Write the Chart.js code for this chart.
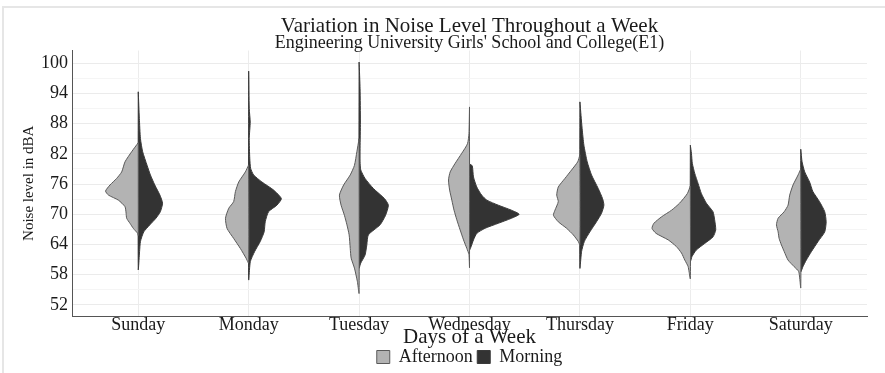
<!DOCTYPE html>
<html>
<head>
<meta charset="utf-8">
<script src="https://cdn.jsdelivr.net/npm/chart.js@4.4.1/dist/chart.umd.min.js"></script>
<style>
  html, body { margin: 0; padding: 0; background: #ffffff; }
  #wrap { width: 885px; height: 373px; }
</style>
</head>
<body>
<div id="wrap"><canvas id="chart" width="885" height="373"></canvas></div>
<script>
// Days on the x axis and the two sampling sessions
const days = ['Sunday', 'Monday', 'Tuesday', 'Wednesday', 'Thursday', 'Friday', 'Saturday'];
const sessions = ['Afternoon', 'Morning'];
const yTickLabels = [52, 58, 64, 70, 76, 82, 88, 94, 100];
const yMinorTicks = [55, 61, 67, 73, 79, 85, 91, 97];

// Density profiles: [noise level dBA, half-width of the violin in category units]
const sundayAfternoon = [[84.2,0],[82.4,0.06],[80.4,0.12],[78.4,0.15],[77.1,0.196],[75.8,0.256],[74.6,0.296],[73.8,0.27],[72.8,0.18],[71.5,0.12],[70.2,0.11],[69.2,0.105],[68.2,0.075],[67.2,0.045],[66.2,0.005],[65.8,0]];
const sundayMorning = [[94.3,0],[89.0,0.01],[85.0,0.02],[82.4,0.04],[79.7,0.08],[77.8,0.11],[75.8,0.15],[73.8,0.196],[72.2,0.22],[70.5,0.2],[69.2,0.16],[67.9,0.105],[66.5,0.05],[64.6,0.02],[62.6,0.012],[59.0,0]];
const mondayAfternoon = [[79.8,0],[78.4,0.03],[76.4,0.09],[74.5,0.12],[72.5,0.136],[71.2,0.18],[69.2,0.21],[67.2,0.196],[65.2,0.136],[63.2,0.075],[61.3,0.024],[60.3,0]];
const mondayMorning = [[98.4,0],[91.0,0.005],[88.3,0.014],[85.0,0.005],[81.1,0.01],[79.1,0.018],[77.8,0.045],[76.4,0.12],[74.8,0.226],[73.1,0.296],[71.8,0.256],[70.5,0.18],[68.5,0.15],[66.5,0.14],[64.6,0.105],[62.6,0.054],[60.6,0.015],[57.0,0]];
const tuesdayAfternoon = [[85.0,0],[82.4,0.02],[79.7,0.042],[77.8,0.08],[75.8,0.14],[73.8,0.178],[71.8,0.163],[69.8,0.133],[67.9,0.11],[65.9,0.09],[63.2,0.08],[61.3,0.072],[59.3,0.042],[56.6,0.015],[54.3,0]];
const tuesdayMorning = [[100.2,0],[94.9,0.009],[88.3,0.012],[83.1,0.009],[80.4,0.009],[78.8,0.015],[77.1,0.054],[75.1,0.13],[73.1,0.23],[71.8,0.265],[69.8,0.24],[67.9,0.19],[65.9,0.084],[63.9,0.07],[61.9,0.054],[60.3,0.015],[59.3,0]];
const wednesdayAfternoon = [[91.3,0],[86.0,0.005],[84.0,0.018],[82.1,0.07],[80.1,0.13],[78.4,0.175],[76.8,0.19],[74.8,0.18],[72.8,0.16],[70.8,0.14],[68.9,0.115],[66.9,0.085],[64.9,0.054],[63.2,0.024],[62.0,0.005],[59.4,0]];
const wednesdayMorning = [[80.0,0],[79.6,0.025],[77.4,0.036],[75.4,0.066],[73.8,0.11],[72.8,0.157],[71.8,0.26],[70.8,0.38],[70.0,0.45],[69.2,0.38],[68.2,0.26],[67.2,0.14],[66.2,0.066],[64.9,0.036],[63.6,0.015],[62.9,0]];
const thursdayAfternoon = [[81.8,0],[80.4,0.02],[78.8,0.075],[77.1,0.136],[75.4,0.196],[73.8,0.21],[72.5,0.196],[70.8,0.226],[69.8,0.24],[68.5,0.196],[67.2,0.12],[65.9,0.06],[64.6,0.015],[63.9,0]];
const thursdayMorning = [[92.3,0],[89.6,0.01],[87.0,0.02],[83.7,0.036],[80.4,0.066],[77.8,0.105],[75.1,0.166],[73.1,0.205],[71.8,0.217],[70.2,0.196],[68.5,0.15],[66.5,0.09],[64.6,0.04],[62.6,0.015],[59.3,0]];
const fridayAfternoon = [[75.6,0],[74.1,0.027],[72.2,0.097],[70.8,0.17],[69.5,0.26],[68.2,0.33],[67.2,0.347],[66.2,0.31],[64.9,0.2],[63.6,0.127],[62.3,0.08],[60.9,0.05],[59.6,0.02],[57.2,0]];
const fridayMorning = [[83.7,0],[82.1,0.01],[80.1,0.018],[78.1,0.04],[76.1,0.07],[74.1,0.1],[72.2,0.145],[70.5,0.205],[68.9,0.22],[66.9,0.23],[65.5,0.205],[64.2,0.13],[62.9,0.054],[61.6,0.015],[60.6,0]];
const saturdayAfternoon = [[79.0,0],[77.8,0.024],[75.8,0.07],[73.8,0.1],[71.8,0.115],[70.5,0.15],[69.2,0.205],[67.9,0.22],[66.5,0.205],[65.2,0.196],[63.9,0.175],[62.6,0.15],[60.9,0.115],[59.6,0.06],[58.6,0.018],[55.4,0]];
const saturdayMorning = [[82.9,0],[80.4,0.012],[78.4,0.036],[76.4,0.08],[74.5,0.11],[72.5,0.17],[70.5,0.217],[68.5,0.23],[66.5,0.217],[64.6,0.157],[62.6,0.097],[60.9,0.05],[59.6,0.02],[58.6,0]];

const afternoonProfiles = [sundayAfternoon, mondayAfternoon, tuesdayAfternoon, wednesdayAfternoon, thursdayAfternoon, fridayAfternoon, saturdayAfternoon];
const morningProfiles = [sundayMorning, mondayMorning, tuesdayMorning, wednesdayMorning, thursdayMorning, fridayMorning, saturdayMorning];

const sessionFill = ['#b3b3b3', '#333333'];
const sessionBorder = ['#5a5a5a', '#3a3a3a'];

// One half-violin: outline from top to bottom, then back up the centre line
function halfViolin(profile, center, side) {
  const pts = profile.map(([v, w]) => ({ x: center + side * w, y: v }));
  pts.push({ x: center, y: profile[0][0] });
  return pts;
}

const datasets = [];
days.forEach((day, i) => {
  const c = i + 1;
  [afternoonProfiles[i], morningProfiles[i]].forEach((profile, s) => {
    datasets.push({
      label: sessions[s],
      data: halfViolin(profile, c, s === 0 ? -1 : 1),
      backgroundColor: sessionFill[s],
      borderColor: sessionBorder[s],
      borderWidth: 1,
      pointRadius: 0,
      tension: 0.2,
      fill: false
    });
  });
});

// Fill each half-violin polygon along the line element's own path
const violinFill = {
  id: 'violinFill',
  beforeDatasetDraw(chart, args) {
    const meta = args.meta;
    const ds = chart.data.datasets[args.index];
    const ctx = chart.ctx;
    const area = chart.chartArea;
    ctx.save();
    ctx.beginPath();
    ctx.rect(area.left, area.top, area.right - area.left, area.bottom - area.top);
    ctx.clip();
    ctx.beginPath();
    if (meta.dataset && typeof meta.dataset.path === 'function') {
      meta.dataset.path(ctx);
    } else {
      meta.data.forEach((p, k) => k ? ctx.lineTo(p.x, p.y) : ctx.moveTo(p.x, p.y));
    }
    ctx.closePath();
    ctx.fillStyle = ds.backgroundColor;
    ctx.fill();
    ctx.restore();
  }
};

const pageBackground = {
  id: 'pageBackground',
  beforeDraw(chart) {
    const ctx = chart.ctx;
    ctx.save();
    ctx.fillStyle = '#ffffff';
    ctx.fillRect(0, 0, chart.width, chart.height);
    ctx.strokeStyle = '#e6e6e6';
    ctx.lineWidth = 2;
    ctx.beginPath();
    ctx.moveTo(3, chart.height);
    ctx.lineTo(3, 7);
    ctx.lineTo(chart.width, 7);
    ctx.stroke();
    ctx.restore();
  }
};

const serif = "'Liberation Serif', 'Times New Roman', serif";

new Chart(document.getElementById('chart'), {
  type: 'line',
  data: { datasets },
  plugins: [pageBackground, violinFill],
  options: {
    responsive: false,
    animation: false,
    devicePixelRatio: 1,
    layout: { padding: { left: 22, right: 18, top: 0, bottom: -3 } },
    plugins: {
      tooltip: { enabled: false },
      title: {
        display: true,
        text: 'Variation in Noise Level Throughout a Week',
        fullSize: false,
        color: '#1a1a1a',
        font: { family: serif, size: 21, weight: 'normal', lineHeight: 1 },
        padding: { top: 16, bottom: 0 }
      },
      subtitle: {
        display: true,
        text: "Engineering University Girls' School and College(E1)",
        fullSize: false,
        color: '#1a1a1a',
        font: { family: serif, size: 18, weight: 'normal', lineHeight: 0.75 },
        padding: { top: 0, bottom: 0 }
      },
      legend: {
        position: 'bottom',
        fullSize: false,
        labels: {
          boxWidth: 13,
          boxHeight: 13,
          padding: 0,
          color: '#1a1a1a',
          font: { family: serif, size: 18, lineHeight: 1 },
          generateLabels: (chart) => Chart.defaults.plugins.legend.labels.generateLabels(chart)
            .filter(item => item.datasetIndex < 2)
            .map(item => Object.assign(item, { text: item.text + (item.datasetIndex === 0 ? ' ' : '') }))
        }
      }
    },
    scales: {
      x: {
        type: 'linear',
        min: 0.4,
        max: 7.6,
        afterBuildTicks: (axis) => { axis.ticks = days.map((d, i) => ({ value: i + 1 })); },
        afterFit: (axis) => { axis.height = 32; },
        ticks: {
          autoSkip: false,
          maxRotation: 0,
          padding: 0,
          color: '#1a1a1a',
          font: { family: serif, size: 18, lineHeight: 1 },
          callback: (v) => days[v - 1]
        },
        grid: { color: '#ececec', drawTicks: false },
        border: { color: '#555555', width: 1 },
        title: {
          display: true,
          text: 'Days of a Week',
          color: '#1a1a1a',
          font: { family: serif, size: 21, lineHeight: 1 },
          padding: 0
        }
      },
      y: {
        type: 'linear',
        min: 49.8,
        max: 102.5,
        afterBuildTicks: (axis) => {
          axis.ticks = yTickLabels.concat(yMinorTicks).sort((a, b) => a - b).map(v => ({ value: v }));
        },
        afterFit: (axis) => { axis.width = 50; },
        ticks: {
          autoSkip: false,
          padding: 4,
          color: '#1a1a1a',
          font: { family: serif, size: 18 },
          callback: (v) => yTickLabels.includes(v) ? String(v) : ''
        },
        grid: {
          drawTicks: false,
          color: (ctx) => (ctx.tick && yTickLabels.includes(ctx.tick.value)) ? '#ebebeb' : '#f5f5f5'
        },
        border: { color: '#555555', width: 1 },
        title: {
          display: true,
          text: 'Noise level in dBA',
          color: '#1a1a1a',
          font: { family: serif, size: 15, lineHeight: 1 },
          padding: 0
        }
      }
    }
  }
});
</script>
</body>
</html>
